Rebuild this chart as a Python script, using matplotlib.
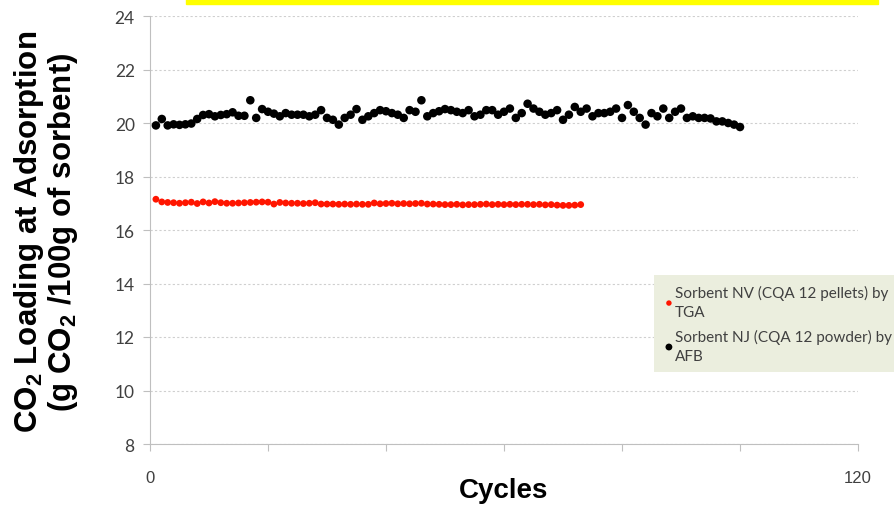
import numpy as np
import matplotlib
matplotlib.use('Agg')
import matplotlib.pyplot as plt
from matplotlib.patches import Rectangle

plt.rcParams['mathtext.fontset'] = 'custom'
plt.rcParams['mathtext.rm'] = 'Liberation Sans'
plt.rcParams['mathtext.bf'] = 'Liberation Sans:bold'

# Sorbent NV (CQA 12 pellets) by TGA
nv_values = [
    17.15, 17.05, 17.03, 17.02, 17.00, 17.02, 17.04, 16.99, 17.05, 17.01,
    17.06, 17.02, 17.00, 17.00, 17.01, 17.02, 17.03, 17.04, 17.05, 17.04,
    16.97, 17.03, 17.01, 17.00, 17.00, 16.99, 17.00, 17.02, 16.97, 16.97,
    16.97, 16.96, 16.97, 16.96, 16.97, 16.96, 16.96, 17.01, 16.98, 16.99,
    17.00, 16.98, 16.99, 16.98, 16.99, 17.00, 16.97, 16.97, 16.96, 16.95,
    16.95, 16.96, 16.94, 16.95, 16.95, 16.96, 16.97, 16.95, 16.96, 16.95,
    16.96, 16.95, 16.96, 16.96, 16.95, 16.96, 16.94, 16.95, 16.93, 16.92,
    16.92, 16.93, 16.95,
]
nv_cycles = list(range(1, len(nv_values) + 1))

# Sorbent NJ (CQA 12 powder) by AFB
nj_values = [
    19.91, 20.15, 19.91, 19.95, 19.93, 19.95, 19.98, 20.15, 20.30, 20.33,
    20.25, 20.30, 20.33, 20.40, 20.27, 20.27, 20.85, 20.19, 20.52, 20.42,
    20.35, 20.25, 20.37, 20.31, 20.31, 20.31, 20.25, 20.31, 20.48, 20.19,
    20.12, 19.94, 20.19, 20.31, 20.52, 20.12, 20.25, 20.37, 20.48, 20.44,
    20.37, 20.31, 20.19, 20.48, 20.42, 20.85, 20.25, 20.37, 20.44, 20.52,
    20.48, 20.42, 20.37, 20.48, 20.25, 20.31, 20.48, 20.48, 20.31, 20.42,
    20.54, 20.19, 20.37, 20.72, 20.54, 20.42, 20.31, 20.37, 20.48, 20.12,
    20.31, 20.60, 20.42, 20.54, 20.25, 20.37, 20.37, 20.42, 20.54, 20.19,
    20.67, 20.42, 20.19, 19.94, 20.37, 20.25, 20.54, 20.19, 20.42, 20.54,
    20.19, 20.25, 20.19, 20.19, 20.17, 20.06, 20.06, 20.00, 19.94, 19.85,
]
nj_cycles = list(range(1, len(nj_values) + 1))

x_ticks = [0, 20, 40, 60, 80, 100, 120]
x_tick_labels = ['0', '', '', '', '', '', '120']
y_ticks = [8, 10, 12, 14, 16, 18, 20, 22, 24]

fig = plt.figure(figsize=(8.94, 5.10), dpi=100)
ax = fig.add_axes([150 / 894, 65 / 510, 708 / 894, 428 / 510])

# yellow strip along the top
fig.patches.append(Rectangle((186 / 894, 505 / 510), 692 / 894, 5 / 510,
                             transform=fig.transFigure, color='#FFFF00', zorder=0))

ax.scatter(nv_cycles, nv_values, s=24, color='#FF1500', edgecolors='none',
           label='Sorbent NV (CQA 12 pellets) by\nTGA', zorder=3)
ax.scatter(nj_cycles, nj_values, s=38, color='black', edgecolors='none',
           label='Sorbent NJ (CQA 12 powder) by\nAFB', zorder=3)

ax.set_xlim(0, 120)
ax.set_ylim(8, 24)
ax.set_xticks(x_ticks)
ax.set_xticklabels(x_tick_labels, family='Liberation Sans', fontsize=12, color='#404040')
ax.set_yticks(y_ticks)
ax.set_yticklabels([str(v) for v in y_ticks], family='Lato', fontsize=12.5, color='#404040')
ax.tick_params(axis='x', direction='out', length=5, color='#BFBFBF', pad=14)
ax.tick_params(axis='y', direction='out', length=5, color='#BFBFBF', pad=6)

ax.yaxis.grid(True, linestyle=(0, (2, 2)), linewidth=0.8, color='#CFCFCF')
ax.set_axisbelow(True)
for side in ['top', 'right']:
    ax.spines[side].set_visible(False)
for side in ['left', 'bottom']:
    ax.spines[side].set_color('#BFBFBF')

ax.set_xlabel('Cycles', family='Liberation Sans', fontsize=20, fontweight='bold', labelpad=-6)
fig.text(46 / 894, 278 / 510,
         'CO$_\\mathbf{2}$ Loading at Adsorption\n(g CO$_\\mathbf{2}$ /100g of sorbent)',
         family='Liberation Sans', fontsize=22.5, fontweight='bold', rotation=90,
         ha='center', va='center', linespacing=1.0, multialignment='center')

leg = fig.legend(loc='upper left', bbox_to_anchor=(646 / 894, 242 / 510),
                 frameon=True, fancybox=False, facecolor='#EBEEDE', edgecolor='none',
                 framealpha=1, handletextpad=0.05, handlelength=0.7,
                 borderpad=0.65, labelspacing=0.65, markerscale=0.8,
                 prop={'family': 'Lato', 'size': 11})
for t in leg.get_texts():
    t.set_color('#404040')
    t.set_linespacing(1.45)

fig.savefig('out.png', dpi=100)
